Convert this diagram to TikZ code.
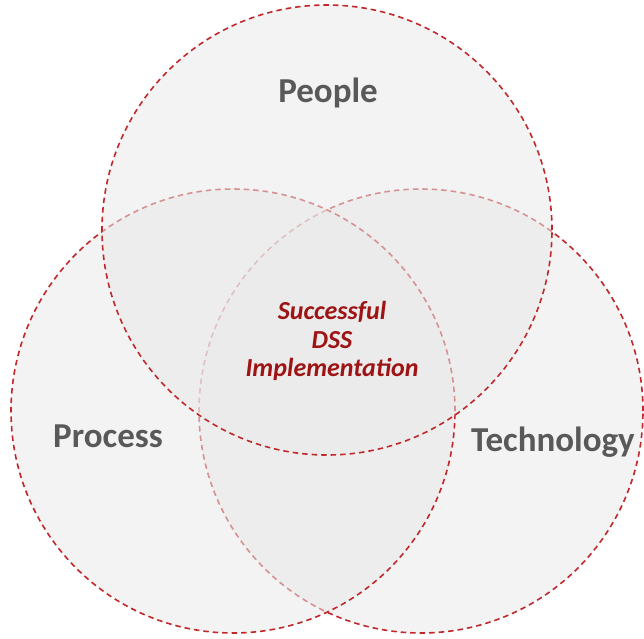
\documentclass[tikz,border=0pt]{standalone}
\usepackage{fontspec}
\setmainfont{Carlito}
\definecolor{ringred}{HTML}{C0282B}
\definecolor{labelgray}{HTML}{595959}
\definecolor{corered}{HTML}{9E1414}
\begin{document}
\begin{tikzpicture}
    [
        x = 1pt, y = -1pt,
        set/.style     = {shape=circle, minimum size=444pt, inner sep=0pt,
                          draw=ringred, dashed, dash pattern=on 5.5pt off 4pt,
                          line width=1.6pt, fill=gray!17, fill opacity=0.55},
        setname/.style = {text=labelgray, anchor=base,
                          font=\bfseries\fontsize{35}{42}\selectfont},
        core/.style    = {text=corered, align=center,
                          font=\bfseries\itshape\fontsize{26}{28.5}\selectfont}
    ]
    \useasboundingbox (0,0) rectangle (644,638);
    % the three sets, back to front
    \node [set] (technology) at (421,411) {};
    \node [set] (process) at (233,411) {};
    \node [set, minimum size=450pt] (people) at (327,230) {};
    % names
    \node [setname] (peoplename) at (328,102) {People};
    \node [setname] (processname) at (108,447) {Process};
    \node [setname] (technologyname) at (553,451) {Technology};
    % the common part
    \node [core] (success) at (332,341) {Successful \\ DSS \\ Implementation};
\end{tikzpicture}
\end{document}
